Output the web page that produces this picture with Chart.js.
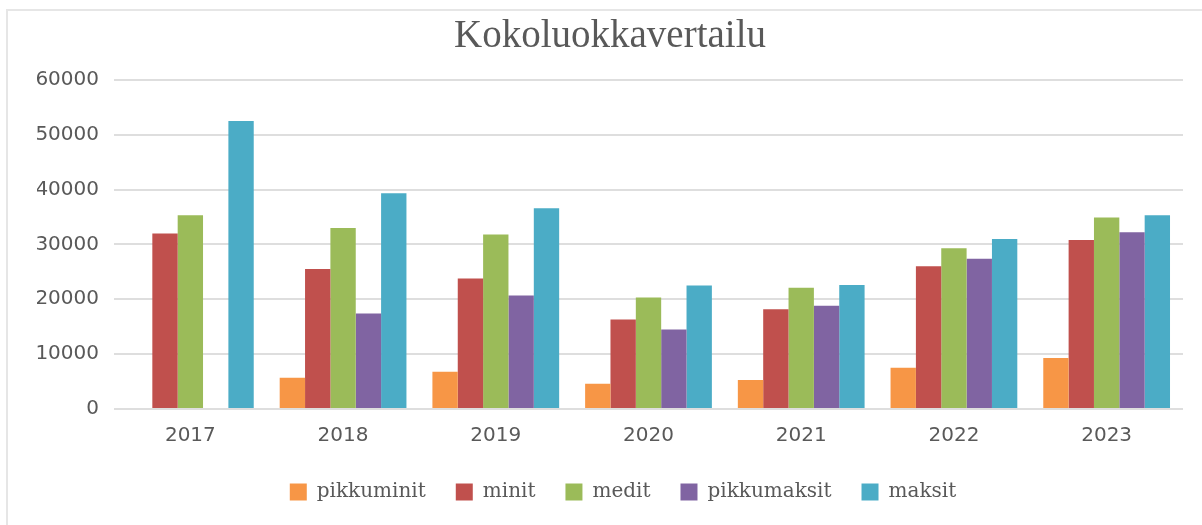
<!DOCTYPE html>
<html>
<head>
<meta charset="utf-8">
<script src="https://cdn.jsdelivr.net/npm/chart.js@4"></script>
<style>
  html, body { margin: 0; padding: 0; background: #ffffff; }
  #wrap { position: relative; width: 1202px; height: 525px; overflow: hidden; }
  #frame { position: absolute; left: 6px; top: 9px; right: -10px; bottom: -10px;
           border-top: 2px solid #e6e6e6; border-left: 2px solid #e6e6e6; pointer-events: none; }
  canvas { position: absolute; left: 0; top: 0; }
</style>
</head>
<body>
<div id="wrap">
  <canvas id="c" width="1202" height="525"></canvas>
  <div id="frame"></div>
</div>
<script>
const chartTitle = 'Kokoluokkavertailu';
const categories = ['2017', '2018', '2019', '2020', '2021', '2022', '2023'];
const seriesNames = ['pikkuminit', 'minit', 'medit', 'pikkumaksit', 'maksit'];
const pikkuminit  = [null, 5700, 6800, 4600, 5300, 7500, 9300];
const minit       = [32000, 25500, 23800, 16300, 18200, 26000, 30800];
const medit       = [35300, 33000, 31800, 20300, 22100, 29300, 34900];
const pikkumaksit = [null, 17400, 20700, 14500, 18800, 27400, 32200];
const maksit      = [52500, 39300, 36600, 22500, 22600, 31000, 35300];
const yTickLabels = ['0', '10000', '20000', '30000', '40000', '50000', '60000'];
const seriesColors = ['#F79646', '#C0504D', '#9BBB59', '#8064A2', '#4BACC6'];

const seriesValues = [pikkuminit, minit, medit, pikkumaksit, maksit];
const datasets = seriesNames.map((name, i) => ({
  label: name,
  data: seriesValues[i],
  backgroundColor: seriesColors[i],
  borderWidth: 0,
  categoryPercentage: 0.83,
  barPercentage: 1.0
}));

const textColor = '#595959';
const LEFT_PAD = 37;
const LEGEND_SHIFT = 13;

const legendShift = {
  id: 'legendShift',
  afterLayout(chart) {
    if (chart.legend) {
      chart.legend.left += LEGEND_SHIFT;
      chart.legend.right += LEGEND_SHIFT;
    }
  }
};

new Chart(document.getElementById('c'), {
  type: 'bar',
  data: { labels: categories, datasets: datasets },
  plugins: [legendShift],
  options: {
    responsive: false,
    animation: false,
    devicePixelRatio: 1,
    layout: { padding: { left: LEFT_PAD, right: 19, top: 0, bottom: 13 } },
    plugins: {
      title: {
        display: true,
        text: chartTitle,
        color: textColor,
        font: { family: '"Liberation Serif", serif', size: 39, weight: 'normal' },
        padding: { top: 13, bottom: 20 }
      },
      legend: {
        display: true,
        position: 'bottom',
        labels: {
          color: textColor,
          font: { family: '"DejaVu Serif", serif', size: 20 },
          boxWidth: 17,
          boxHeight: 17,
          padding: 30
        }
      },
      tooltip: { enabled: false }
    },
    scales: {
      x: {
        afterFit: (scale) => { scale.height = 43; },
        grid: { display: false, drawTicks: false },
        border: { display: false },
        ticks: { color: textColor, font: { family: '"DejaVu Sans", sans-serif', size: 20 }, padding: 15 }
      },
      y: {
        min: 0,
        max: 60000,
        afterFit: (scale) => { scale.width = 114 - LEFT_PAD; },
        grid: { color: '#dedede', lineWidth: 2, drawTicks: false },
        border: { display: false },
        ticks: {
          stepSize: 10000,
          color: textColor,
          font: { family: '"DejaVu Sans", sans-serif', size: 20 },
          padding: 15,
          callback: (v, idx) => yTickLabels[idx]
        }
      }
    }
  }
});
</script>
</body>
</html>
